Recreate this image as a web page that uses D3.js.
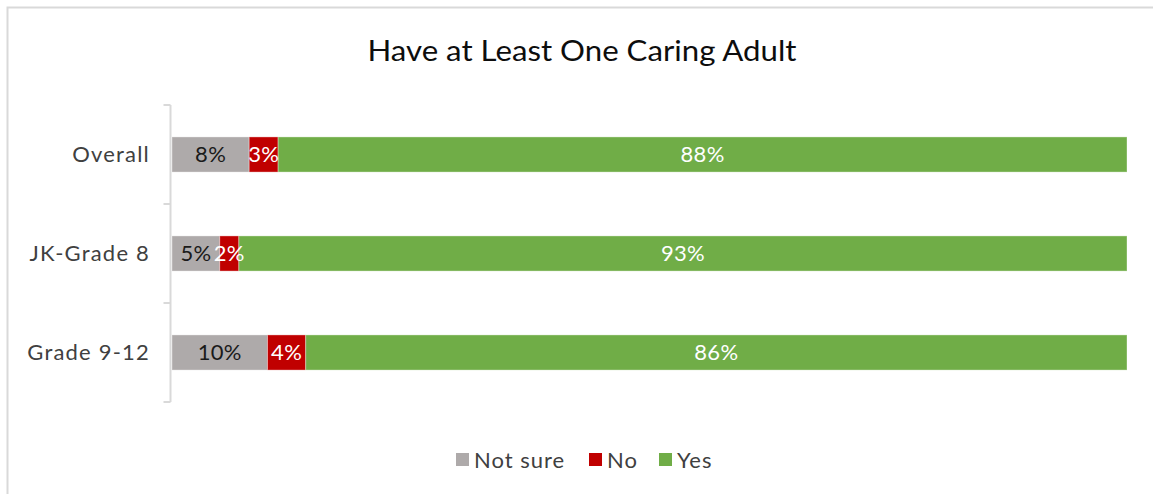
<!DOCTYPE html>
<html>
<head>
<meta charset="utf-8">
<script src="https://cdn.jsdelivr.net/npm/d3@7"></script>
<style>
  html, body { margin: 0; padding: 0; background: #fff; }
  svg { display: block; font-family: Lato, "Open Sans", sans-serif; }
</style>
</head>
<body>
<svg id="chart" width="1153" height="494"></svg>
<script>
// Survey responses, percent of students in each group
const categories = ["Overall", "JK-Grade 8", "Grade 9-12"];
const seriesNames = ["Not sure", "No", "Yes"];
const notSure = [8, 5, 10];
const no = [3, 2, 4];
const yes = [88, 93, 86];
const seriesColors = ["#AEAAAA", "#C00000", "#70AD47"];
const labelColors = ["#1a1a1a", "#ffffff", "#ffffff"];

const rows = categories.map((c, i) => ({
  category: c, "Not sure": notSure[i], "No": no[i], "Yes": yes[i]
}));

const svg = d3.select("#chart");
const W = 1153, H = 494;

// chart frame
svg.append("rect")
  .attr("x", 7.5).attr("y", 7.5)
  .attr("width", W + 20).attr("height", H + 20)
  .attr("fill", "#fff").attr("stroke", "#d9d9d9").attr("stroke-width", 2);

svg.append("text")
  .attr("x", 582).attr("y", 61)
  .attr("text-anchor", "middle")
  .attr("font-size", 29)
  .attr("textLength", 429)
  .attr("lengthAdjust", "spacingAndGlyphs")
  .attr("fill", "#0d0d0d")
  .text("Have at Least One Caring Adult");

const margin = { left: 172, right: 26, top: 105, bottom: 92 };
const x = d3.scaleLinear().domain([0, 1]).range([margin.left, W - margin.right]);
const y = d3.scaleBand().domain(categories)
  .range([margin.top, H - margin.bottom])
  .paddingInner(0.645).paddingOuter(0.3225);

// each row is stretched to the full width (100% stacked)
const stack = d3.stack().keys(seriesNames).offset(d3.stackOffsetExpand);
const layers = stack(rows);

const g = svg.append("g");
layers.forEach((layer, li) => {
  g.selectAll(null).data(layer).enter().append("rect")
    .attr("x", d => x(d[0]))
    .attr("y", d => y(d.data.category))
    .attr("width", d => x(d[1]) - x(d[0]))
    .attr("height", y.bandwidth())
    .attr("fill", seriesColors[li])
    .attr("stroke", "#ffffff").attr("stroke-opacity", 0.35).attr("stroke-width", 1);
});

layers.forEach((layer, li) => {
  g.selectAll(null).data(layer).enter().append("text")
    .attr("x", d => (x(d[0]) + x(d[1])) / 2)
    .attr("y", d => y(d.data.category) + y.bandwidth() / 2)
    .attr("dy", "0.36em")
    .attr("text-anchor", "middle")
    .attr("font-size", 22)
    .attr("letter-spacing", 0.3)
    .attr("fill", labelColors[li])
    .text(d => d.data[layer.key] + "%");
});

// category axis with bracket-style ticks between groups
const axisX = 170.5;
const step = y.step();
const tickYs = d3.range(categories.length + 1).map(i => y.range()[0] + i * step);
const ax = svg.append("g").attr("stroke", "#d9d9d9").attr("stroke-width", 2).attr("fill", "none");
ax.append("line").attr("x1", axisX).attr("x2", axisX)
  .attr("y1", tickYs[0]).attr("y2", tickYs[tickYs.length - 1]);
ax.selectAll(null).data(tickYs).enter().append("line")
  .attr("x1", axisX - 7).attr("x2", axisX)
  .attr("y1", d => d).attr("y2", d => d);

svg.append("g").selectAll("text").data(categories).enter().append("text")
  .attr("x", 150)
  .attr("y", d => y(d) + y.bandwidth() / 2)
  .attr("dy", "0.36em")
  .attr("text-anchor", "end")
  .attr("font-size", 22)
  .attr("letter-spacing", 1.2)
  .attr("fill", "#404040")
  .text(d => d);

// legend
const legendItems = [
  { name: "Not sure", x: 456 },
  { name: "No", x: 589 },
  { name: "Yes", x: 659 }
];
const lg = svg.append("g");
legendItems.forEach((it, i) => {
  lg.append("rect").attr("x", it.x).attr("y", 453).attr("width", 13).attr("height", 13)
    .attr("fill", seriesColors[i]);
  lg.append("text").attr("x", it.x + 18).attr("y", 460).attr("dy", "0.36em")
    .attr("font-size", 22).attr("letter-spacing", 1).attr("fill", "#404040").text(it.name);
});
</script>
</body>
</html>
